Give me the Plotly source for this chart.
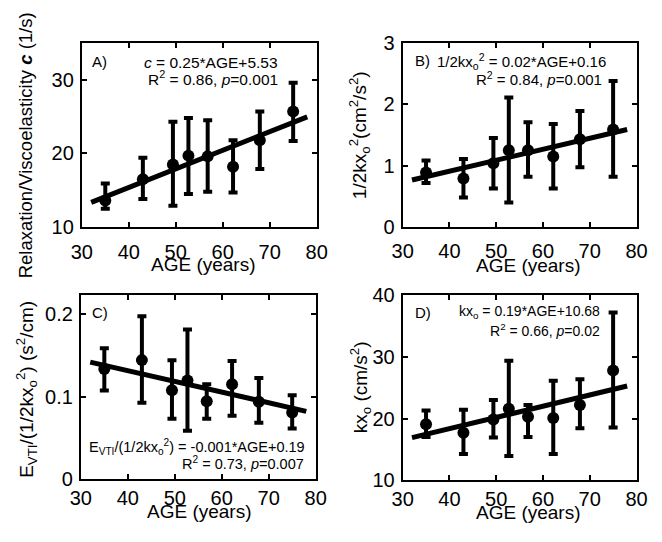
import plotly.graph_objects as go

# ---------------- data ----------------
age = [35.0, 43.0, 49.4, 52.7, 56.8, 62.2, 67.9, 75.0]

# A) Relaxation / viscoelasticity c (1/s)
c_val = [13.6, 16.5, 18.5, 19.7, 19.6, 18.2, 21.8, 25.7]
c_hi = [15.9, 19.4, 24.3, 24.8, 24.5, 21.8, 25.7, 29.6]
c_lo = [12.5, 13.8, 12.9, 14.5, 14.8, 14.7, 17.9, 21.7]
c_fit = [5.26, 0.2527]  # intercept, slope as drawn

# B) 1/2 k xo^2 (cm^2/s^2)
b_val = [0.89, 0.79, 1.04, 1.25, 1.25, 1.15, 1.43, 1.59]
b_hi = [1.085, 1.11, 1.45, 2.11, 1.71, 1.68, 1.89, 2.38]
b_lo = [0.72, 0.48, 0.63, 0.40, 0.82, 0.63, 0.975, 0.82]
b_fit = [0.194, 0.0179]

# C) E_VTI / (1/2 k xo^2) (s^2/cm)
e_val = [0.1337, 0.1446, 0.108, 0.120, 0.0947, 0.1154, 0.0940, 0.0811]
e_hi = [0.159, 0.198, 0.1443, 0.1817, 0.1154, 0.1435, 0.1228, 0.1018]
e_lo = [0.1076, 0.0928, 0.0733, 0.0589, 0.0733, 0.0772, 0.0686, 0.0616]
e_fit = [0.1838, -0.0013]

# D) k xo (cm/s^2)
k_val = [19.08, 17.68, 19.84, 21.57, 20.27, 20.1, 22.2, 27.8]
k_hi = [21.3, 21.4, 23.0, 29.36, 22.2, 26.1, 26.35, 37.2]
k_lo = [17.0, 14.25, 16.9, 13.9, 17.0, 14.25, 18.4, 18.56]
k_fit = [11.07, 0.182]

fit_x = [32, 78]
x_ticks = [30, 40, 50, 60, 70, 80]

# ---------------- layout helpers ----------------
# The page body has an 8px default margin, so the figure is sized to fill
# the remaining visible window and page pixels are converted accordingly.
OFF = 8
W, H = 662 - OFF, 542 - OFF
FONT = "Liberation Sans, Arial, Helvetica, sans-serif"


def px(x):
    return (x - OFF) / W


def py(y):
    return 1 - (y - OFF) / H


panels = [
    # (data, hi, lo, fit, xdom page px, ydom page px, yrange, yticks, x label standoff)
    (c_val, c_hi, c_lo, c_fit, (73, 316), (33, 225), [10, 35], [10, 20, 30], 6),
    (b_val, b_hi, b_lo, b_fit, (405, 647), (33, 225), [0, 3], [0, 1, 2, 3], 5),
    (e_val, e_hi, e_lo, e_fit, (72, 315), (296, 488), [0, 0.2235], [0, 0.1, 0.2], 0),
    (k_val, k_hi, k_lo, k_fit, (405, 647), (296, 489), [10, 40], [10, 20, 30, 40], 0),
]

fig = go.Figure()
layout = dict(
    width=W, height=H,
    margin=dict(l=0, r=0, t=0, b=0),
    paper_bgcolor="white", plot_bgcolor="white",
    showlegend=False,
    font=dict(family=FONT, color="black"),
)

for i, (val, hi, lo, fit, xd, yd, yr, yt, xso) in enumerate(panels):
    n = "" if i == 0 else str(i + 1)
    xa, ya = "x" + n, "y" + n
    fx = fit_x
    fy = [fit[0] + fit[1] * x for x in fx]
    fig.add_trace(go.Scatter(x=fx, y=fy, mode="lines",
                             line=dict(color="black", width=5),
                             xaxis=xa, yaxis=ya, hoverinfo="skip"))
    fig.add_trace(go.Scatter(
        x=age, y=val, mode="markers",
        marker=dict(color="black", size=12),
        error_y=dict(type="data", symmetric=False,
                     array=[h - v for h, v in zip(hi, val)],
                     arrayminus=[v - l for v, l in zip(val, lo)],
                     color="black", thickness=4, width=4.5),
        xaxis=xa, yaxis=ya))
    axcommon = dict(showline=True, linecolor="black", linewidth=2, mirror="allticks",
                    ticks="inside", ticklen=5, tickwidth=1.5, tickcolor="black",
                    showgrid=False, zeroline=False,
                    tickfont=dict(family=FONT, size=20, color="black"))
    layout["xaxis" + n] = dict(axcommon, domain=[px(xd[0]), px(xd[1])], range=[30, 80],
                               tickvals=x_ticks, anchor=ya, ticklabelstandoff=xso)
    layout["yaxis" + n] = dict(axcommon, domain=[py(yd[1]), py(yd[0])], range=yr,
                               tickvals=yt, anchor=xa, ticklabelstandoff=2)

ann = []


def add(text, x, y, size=14, xanchor="left", yanchor="middle", angle=0):
    ann.append(dict(text=text, x=px(x), y=py(y), xref="paper", yref="paper",
                    xanchor=xanchor, yanchor=yanchor, showarrow=False, textangle=angle,
                    font=dict(family=FONT, size=size, color="black")))


# panel labels
add("A)", 81, 52, size=15)
add("B)", 416, 51, size=15)
add("C)", 81, 314, size=15)
add("D)", 416, 314, size=15)

# equations
add("<i>c</i> = 0.25*AGE+5.53", 278, 53, size=15.5, xanchor="right")
add("R<sup>2</sup> = 0.86, <i>p</i>=0.001", 278, 70, size=15.5, xanchor="right")
add("1/2kx<sub>o</sub><sup>2</sup> = 0.02*AGE+0.16", 617, 52, size=15, xanchor="right")
add("R<sup>2</sup> = 0.84, <i>p</i>=0.001", 613, 70, size=15, xanchor="right")
add("E<sub>VTI</sub>/(1/2kx<sub>o</sub><sup>2</sup>) = -0.001*AGE+0.19", 306, 454, size=14.5, xanchor="right")
add("R<sup>2</sup> = 0.73, <i>p</i>=0.007", 305, 471, size=14.5, xanchor="right")
add("kx<sub>o</sub> = 0.19*AGE+10.68", 611, 314, size=14, xanchor="right")
add("R<sup>2</sup> = 0.66, <i>p</i>=0.02", 611, 332, size=14, xanchor="right")

# axis titles
add("AGE (years)", 199, 264, size=19, xanchor="center")
add("AGE (years)", 535, 265, size=19, xanchor="center")
add("AGE (years)", 195, 522, size=19, xanchor="center")
add("AGE (years)", 535, 523, size=19, xanchor="center")
add("Relaxation/Viscoelasticity <b><i>c</i></b> (1/s)", 15, 140, size=18.5, xanchor="center", angle=-90)
add("1/2kx<sub>o</sub><sup>2</sup>(cm<sup>2</sup>/s<sup>2</sup>)", 360, 129, size=19, xanchor="center", angle=-90)
add("E<sub>VTI</sub>/(1/2kx<sub>o</sub><sup>2</sup>) (s<sup>2</sup>/cm)", 15, 394, size=19, xanchor="center", angle=-90)
add("kx<sub>o</sub> (cm/s<sup>2</sup>)", 361, 392, size=19, xanchor="center", angle=-90)

layout["annotations"] = ann
fig.update_layout(**layout)
fig.write_html("out.html")
